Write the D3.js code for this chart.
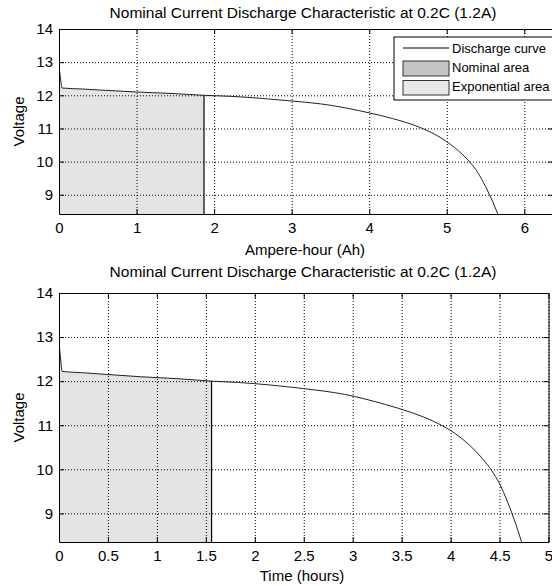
<!DOCTYPE html>
<html>
<head>
<meta charset="utf-8">
<script src="https://cdn.jsdelivr.net/npm/d3@7"></script>
<style>
  body { margin: 0; background: #fff; }
  svg { display: block; font-family: "Liberation Sans", Arial, sans-serif; }
  .tick text { font-size: 15px; fill: #000; }
  .grid line { stroke: #000; stroke-dasharray: 1,2; }
  .grid path { display: none; }
  .axis path, .axis line { stroke: #000; }
</style>
</head>
<body>
<svg id="chart" width="552" height="586"></svg>
<script>
// discharge curve (capacity in Ah, voltage in V)
const capacityAh = [0, 0.015, 0.04, 0.3, 0.6, 1.0, 1.5, 1.87, 2.2, 2.6, 3.0, 3.5, 4.0, 4.3, 4.6, 4.8, 5.0, 5.2, 5.3, 5.4, 5.5, 5.6, 5.67];
const voltage    = [12.87, 12.6, 12.22, 12.19, 12.15, 12.1, 12.05, 12.0, 11.97, 11.91, 11.83, 11.70, 11.47, 11.30, 11.08, 10.88, 10.60, 10.22, 9.98, 9.67, 9.25, 8.75, 8.35];
const nominalAh = 1.87;
const dischargeCurrent = 1.2; // A, 0.2C

const voltTicks = [9, 10, 11, 12, 13, 14];
const ahTicks = [0, 1, 2, 3, 4, 5, 6];
const hourTicks = [0, 0.5, 1, 1.5, 2, 2.5, 3, 3.5, 4, 4.5, 5];

const titleText = "Nominal Current Discharge Characteristic at 0.2C (1.2A)";
const legendLabels = ["Discharge curve", "Nominal area", "Exponential area"];

const svg = d3.select("#chart");

function drawPanel(opt) {
    const g = svg.append("g");
    const x = d3.scaleLinear().domain(opt.xDomain).range([opt.left, opt.right]);
    const y = d3.scaleLinear().domain(opt.yDomain).range([opt.bottom, opt.top]);
    const w = opt.right - opt.left, h = opt.bottom - opt.top;
    const pts = capacityAh.map((a, i) => [a / opt.div, voltage[i]]);
    const nomX = nominalAh / opt.div;

    const clipId = "clip" + opt.id;
    g.append("clipPath").attr("id", clipId)
        .append("rect").attr("x", opt.left).attr("y", opt.top).attr("width", w).attr("height", h);

    // shaded nominal region under the curve
    const nomPts = pts.filter(p => p[0] <= nomX + 1e-9);
    g.append("path")
        .datum(nomPts)
        .attr("clip-path", `url(#${clipId})`)
        .attr("fill", "#e4e4e4")
        .attr("d", d3.area().curve(d3.curveMonotoneX)
            .x(d => x(d[0])).y0(y(opt.yDomain[0])).y1(d => y(d[1])));

    // grid
    g.append("g").attr("class", "grid")
        .attr("transform", `translate(0,${opt.bottom})`)
        .call(d3.axisBottom(x).tickValues(opt.xTicks).tickSize(-h).tickFormat(""));
    g.append("g").attr("class", "grid")
        .attr("transform", `translate(${opt.left},0)`)
        .call(d3.axisLeft(y).tickValues(voltTicks).tickSize(-w).tickFormat(""));

    // nominal edge
    const nomV = nomPts[nomPts.length - 1][1];
    g.append("line")
        .attr("x1", x(nomX)).attr("x2", x(nomX))
        .attr("y1", y(nomV)).attr("y2", y(opt.yDomain[0]))
        .attr("stroke", "#000").attr("stroke-width", 1.2);

    // curve
    g.append("path")
        .datum(pts)
        .attr("clip-path", `url(#${clipId})`)
        .attr("fill", "none")
        .attr("stroke", "#222")
        .attr("stroke-width", 1)
        .attr("d", d3.line().curve(d3.curveMonotoneX).x(d => x(d[0])).y(d => y(d[1])));

    // axes, ticks inward
    const fmt = d3.format("~g");
    g.append("g").attr("class", "axis")
        .attr("transform", `translate(0,${opt.bottom})`)
        .call(d3.axisBottom(x).tickValues(opt.xTicks).tickSizeInner(-5).tickSizeOuter(0).tickPadding(8).tickFormat(fmt));
    g.append("g").attr("class", "axis")
        .attr("transform", `translate(0,${opt.top})`)
        .call(d3.axisTop(x).tickValues(opt.xTicks).tickSizeInner(-5).tickSizeOuter(0).tickFormat(""));
    g.append("g").attr("class", "axis")
        .attr("transform", `translate(${opt.left},0)`)
        .call(d3.axisLeft(y).tickValues(voltTicks).tickSizeInner(-5).tickSizeOuter(0).tickPadding(6).tickFormat(fmt));
    g.append("g").attr("class", "axis")
        .attr("transform", `translate(${opt.right},0)`)
        .call(d3.axisRight(y).tickValues(voltTicks).tickSizeInner(-5).tickSizeOuter(0).tickFormat(""));

    g.append("text")
        .attr("x", 303)
        .attr("y", opt.titleY)
        .attr("text-anchor", "middle")
        .attr("font-size", 15.5)
        .text(titleText);

    g.append("text")
        .attr("x", opt.xLabelX)
        .attr("y", opt.xLabelY)
        .attr("text-anchor", "middle")
        .attr("font-size", 15)
        .text(opt.xLabel);

    g.append("text")
        .attr("transform", `translate(24,${(opt.top + opt.bottom) / 2}) rotate(-90)`)
        .attr("text-anchor", "middle")
        .attr("font-size", 15)
        .text("Voltage");

    return g;
}

drawPanel({
    id: 1, div: 1, left: 59, right: 553, top: 29, bottom: 214,
    xDomain: [0, 6.37], yDomain: [8.42, 14], xTicks: ahTicks,
    titleY: 18, xLabel: "Ampere-hour (Ah)", xLabelX: 305, xLabelY: 255
});

drawPanel({
    id: 2, div: dischargeCurrent, left: 59, right: 548.5, top: 293, bottom: 542,
    xDomain: [0, 5], yDomain: [8.35, 14], xTicks: hourTicks,
    titleY: 277, xLabel: "Time (hours)", xLabelX: 302, xLabelY: 581
});

// legend (top panel)
const lg = svg.append("g").attr("transform", "translate(394,37)");
lg.append("rect").attr("width", 170).attr("height", 63)
    .attr("fill", "#fff").attr("stroke", "#000");
lg.append("line").attr("x1", 9).attr("x2", 55).attr("y1", 11).attr("y2", 11)
    .attr("stroke", "#000");
lg.append("rect").attr("x", 9).attr("y", 24).attr("width", 46).attr("height", 15)
    .attr("fill", "#c4c4c4").attr("stroke", "#333");
lg.append("rect").attr("x", 9).attr("y", 43.5).attr("width", 46).attr("height", 14.5)
    .attr("fill", "#e8e8e8").attr("stroke", "#333");
lg.selectAll("text.lab")
    .data(legendLabels)
    .join("text")
    .attr("class", "lab")
    .attr("x", 58)
    .attr("y", (d, i) => 16 + i * 19)
    .attr("font-size", 13)
    .text(d => d);
</script>
</body>
</html>
